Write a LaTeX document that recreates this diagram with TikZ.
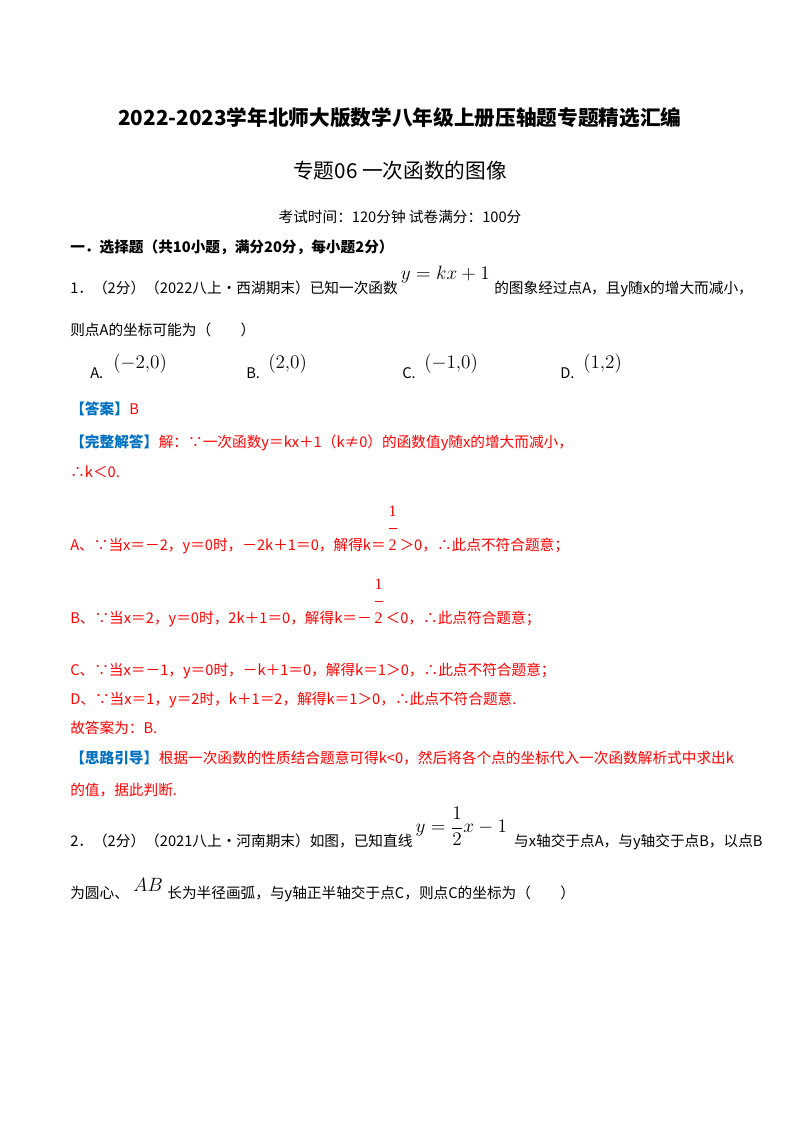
\documentclass[tikz,border=0pt]{standalone}
\usepackage{fontspec}
\setmainfont{Liberation Serif}
\newfontfamily\cjk{Noto Sans CJK SC}
\begin{document}
\begin{tikzpicture}[x=0.75pt,y=0.75pt,
  t/.style={anchor=base west,inner sep=0pt,font=\cjk\fontsize{11}{13}\selectfont},
  r/.style={t,text=red},
  b/.style={t,text=myblue,font=\cjk\bfseries\fontsize{11}{13}\selectfont},
  m/.style={anchor=base west,inner sep=0pt,font=\fontsize{14}{16}\selectfont},
  fr/.style={anchor=base,inner sep=0pt,text=red,font=\fontsize{12}{14}\selectfont}]
\definecolor{myblue}{RGB}{0,112,192}
\useasboundingbox (0,0) rectangle (800,-1132);
\fill[white] (0,0) rectangle (800,-1132);
\node[anchor=base,font=\cjk\bfseries\fontsize{15.5}{17}\selectfont] (ti) at (400,-125) {2022-2023学年北师大版数学八年级上册压轴题专题精选汇编};
\node[anchor=base,font=\cjk\fontsize{15.5}{17}\selectfont] (st) at (400,-178) {专题06\ 一次函数的图像};
\node[anchor=base,font=\cjk\fontsize{11}{13}\selectfont] (ts) at (400,-222) {考试时间：120分钟\ 试卷满分：100分};
\node[t,font=\cjk\bfseries\fontsize{11}{13}\selectfont] (s1) at (70,-252) {一．选择题（共10小题，满分20分，每小题2分）};
% Q1
\node[t] (q1a) at (70,-293) {1．（2分）（2022八上•西湖期末）已知一次函数};
\node[m] (q1f) at ([xshift=2pt,yshift=10]q1a.base east) {$y=kx+1$};
\node[t] (q1b) at ([xshift=3pt]q1f.base east |- q1a.base) {的图象经过点A，且y随x的增大而减小，};
\node[t] (q1c) at (70,-335) {则点A的坐标可能为（\quad\quad）};
\node[t] (oA) at (90,-378) {A.}; \node[m] (oAf) at (113,-368) {$(-2{,}0)$};
\node[t] (oB) at (246,-378) {B.}; \node[m] (oBf) at (268,-368) {$(2{,}0)$};
\node[t] (oC) at (402,-378) {C.}; \node[m] (oCf) at (424,-368) {$(-1{,}0)$};
\node[t] (oD) at (560,-378) {D.}; \node[m] (oDf) at (583,-368) {$(1{,}2)$};
\node[b] (ans) at (70,-414) {【答案】};
\node[r] (ansv) at (ans.base east) {B};
\node[b] (sol) at (70,-447) {【完整解答】};
\node[r] (solt) at (sol.base east) {解：∵一次函数y＝kx＋1（k≠0）的函数值y随x的增大而减小，};
\node[r] (k0) at (70,-477) {∴k＜0.};
% A
\node[r] (la) at (70,-550) {A、∵当x＝－2，y＝0时，－2k＋1＝0，解得k＝};
\node[fr] (la2) at ([xshift=5pt]la.base east) {2};
\node[fr] (la1) at ([yshift=25]la2.base) {1};
\draw[red,line width=0.5pt] ([xshift=-3pt,yshift=16]la2.base) -- ([xshift=3pt,yshift=16]la2.base);
\node[r] (la3) at ([xshift=10pt]la.base east) {＞0，∴此点不符合题意；};
% B
\node[r] (lb) at (70,-623) {B、∵当x＝2，y＝0时，2k＋1＝0，解得k＝－};
\node[fr] (lb2) at ([xshift=5pt]lb.base east) {2};
\node[fr] (lb1) at ([yshift=25]lb2.base) {1};
\draw[red,line width=0.5pt] ([xshift=-3pt,yshift=16]lb2.base) -- ([xshift=3pt,yshift=16]lb2.base);
\node[r] (lb3) at ([xshift=10pt]lb.base east) {＜0，∴此点符合题意；};
\node[r] (lc) at (70,-675) {C、∵当x＝－1，y＝0时，－k＋1＝0，解得k＝1＞0，∴此点不符合题意；};
\node[r] (ld) at (70,-704) {D、∵当x＝1，y＝2时，k＋1＝2，解得k＝1＞0，∴此点不符合题意.};
\node[r] (gu) at (70,-733) {故答案为：B.};
\node[b] (sl) at (70,-763) {【思路引导】};
\node[r] (slt) at (sl.base east) {根据一次函数的性质结合题意可得k<0，然后将各个点的坐标代入一次函数解析式中求出k};
\node[r] (sl2) at (70,-795) {的值，据此判断.};
% Q2
\node[t] (q2a) at (70,-846) {2．（2分）（2021八上•河南期末）如图，已知直线};
\node[m] (q2f) at ([xshift=2pt,yshift=10]q2a.base east) {$y=\displaystyle\frac{1}{2}x-1$};
\node[t] (q2b) at ([xshift=5pt]q2f.base east |- q2a.base) {与x轴交于点A，与y轴交于点B，以点B};
\node[t] (q2c) at (70,-898) {为圆心、};
\node[m] (q2d) at ([xshift=3pt,yshift=5]q2c.base east) {$AB$};
\node[t] (q2e) at ([xshift=3pt]q2d.base east |- q2c.base) {长为半径画弧，与y轴正半轴交于点C，则点C的坐标为（\quad\quad）};
\end{tikzpicture}
\end{document}
